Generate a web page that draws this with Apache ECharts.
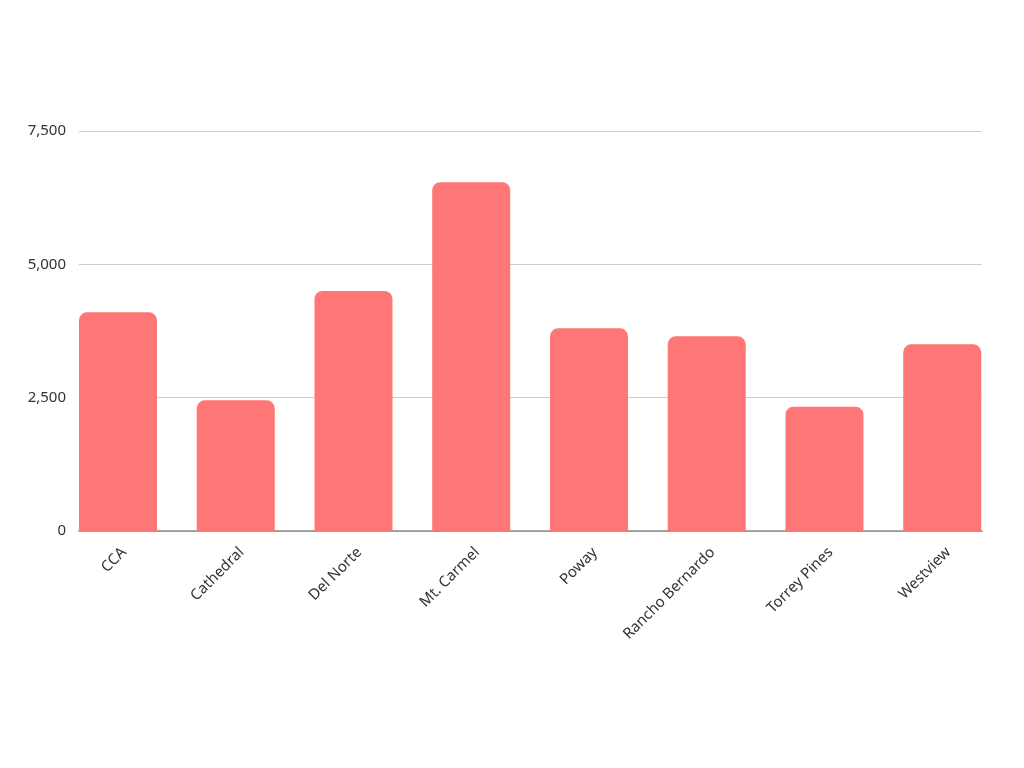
<!DOCTYPE html>
<html>
<head>
<meta charset="utf-8">
<script src="https://cdn.jsdelivr.net/npm/echarts@6/dist/echarts.min.js"></script>
<style>
html,body{margin:0;padding:0;background:#fff;}
#chart{width:1024px;height:768px;}
</style>
</head>
<body>
<div id="chart"></div>
<script>
const categories = ["CCA", "Cathedral", "Del Norte", "Mt. Carmel", "Poway", "Rancho Bernardo", "Torrey Pines", "Westview"];
const values = [4100, 2450, 4500, 6540, 3800, 3650, 2330, 3500];
const yTicks = [0, 2500, 5000, 7500];

const FONT = "Noto Sans";
const chart = echarts.init(document.getElementById('chart'));
chart.setOption({
  backgroundColor: '#ffffff',
  animation: false,
  grid: [
    { left: 79, right: 42, top: 131, bottom: 237 },
    { left: 59.1, right: 22.9, top: 131, bottom: 237 },
    { left: 65.1, right: 16.9, top: 131, bottom: 237 }
  ],
  xAxis: [
    {
      gridIndex: 0, type: 'value', min: 0, max: 1,
      axisLine: { show: true, lineStyle: { color: '#8a8a8a', width: 1.5 } },
      axisTick: { show: false }, axisLabel: { show: false }, splitLine: { show: false }
    },
    {
      gridIndex: 1, type: 'category', data: categories,
      axisLine: { show: false }, axisTick: { show: false }, splitLine: { show: false },
      axisLabel: { show: false }
    },
    {
      gridIndex: 2, type: 'category', data: categories,
      axisLine: { show: false }, axisTick: { show: false }, splitLine: { show: false },
      axisLabel: { rotate: 45, interval: 0, margin: 19, color: '#333', fontFamily: FONT, fontSize: 15 }
    }
  ],
  yAxis: [
    {
      gridIndex: 0, type: 'value', min: 0, max: 7500, interval: 2500,
      axisLine: { show: false }, axisTick: { show: false },
      splitLine: { show: true, lineStyle: { color: '#cccccc', width: 1 } },
      axisLabel: {
        color: '#333', fontFamily: FONT, fontSize: 15, margin: 13,
        formatter: v => yTicks.includes(v) ? v.toLocaleString('en-US') : ''
      }
    },
    {
      gridIndex: 1, type: 'value', min: 0, max: 7500, interval: 2500,
      show: false, splitLine: { show: false }
    },
    {
      gridIndex: 2, type: 'value', min: 0, max: 7500, interval: 2500,
      show: false, splitLine: { show: false }
    }
  ],
  series: [{
    type: 'bar', xAxisIndex: 1, yAxisIndex: 1,
    data: values, barWidth: 78,
    itemStyle: { color: '#ff7676', borderRadius: [8, 8, 0, 0] }
  }]
});
</script>
</body>
</html>
